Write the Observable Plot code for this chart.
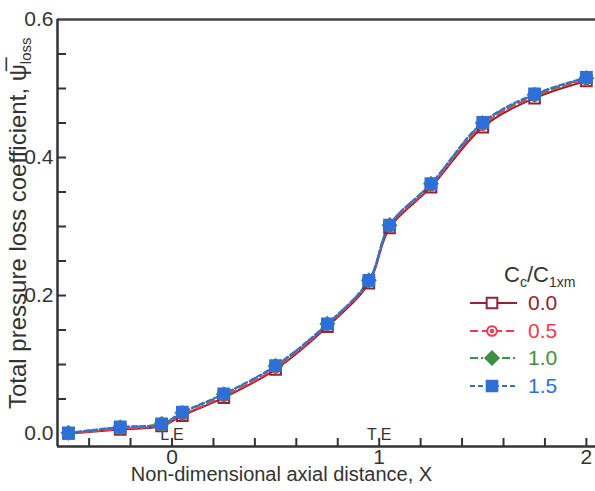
<!DOCTYPE html>
<html>
<head>
<meta charset="utf-8">
<script src="https://cdn.jsdelivr.net/npm/d3@7"></script>
<script src="https://cdn.jsdelivr.net/npm/@observablehq/plot@0.6"></script>
<style>
  html, body { margin: 0; padding: 0; background: #fff; }
  svg { display: block; }
</style>
</head>
<body>
<div id="chart"></div>
<script>
// ---- data ----
const X = [-0.5, -0.25, -0.05, 0.05, 0.25, 0.5, 0.75, 0.95, 1.05, 1.25, 1.5, 1.75, 2.0];
const s00 = [0.000, 0.006, 0.011, 0.026, 0.052, 0.093, 0.155, 0.218, 0.298, 0.357, 0.444, 0.486, 0.511];
const s05 = [0.000, 0.007, 0.012, 0.027, 0.054, 0.095, 0.157, 0.220, 0.300, 0.359, 0.447, 0.489, 0.513];
const s10 = [0.001, 0.009, 0.014, 0.030, 0.057, 0.098, 0.159, 0.222, 0.302, 0.362, 0.450, 0.491, 0.515];
const s15 = [0.001, 0.0095, 0.014, 0.031, 0.0575, 0.0985, 0.159, 0.222, 0.302, 0.362, 0.451, 0.492, 0.516];
const seriesNames = ["0.0", "0.5", "1.0", "1.5"];
const seriesValues = [s00, s05, s10, s15];
const xMajor = [0, 1, 2];
const xMinor = [-0.4, -0.2, 0, 0.2, 0.4, 0.6, 0.8, 1.0, 1.2, 1.4, 1.6, 1.8, 2.0];
const yMajor = [0, 0.2, 0.4, 0.6];
const yMinor = [0.05, 0.1, 0.15, 0.2, 0.25, 0.3, 0.35, 0.4, 0.45, 0.5, 0.55];
const edgeLabels = [{x: 0, t: "L E"}, {x: 1, t: "T E"}];

// ---- styles ----
const colors = ["#8e2434", "#f03a4e", "#3d8f45", "#2f6fd8"];
const dashes = [null, "8,4", "8,3,2,3", "5,3"];
const font = "'Liberation Sans', Arial, Helvetica, sans-serif";
const ink = "#333";

const symSquare = {draw(c, s) { const r = Math.sqrt(s) / 2; c.moveTo(-r, -r); c.lineTo(r, -r); c.lineTo(r, r); c.lineTo(-r, r); c.closePath(); }};
const symCircleDot = {draw(c, s) { const r = Math.sqrt(s) / 2.2; c.moveTo(r, 0); c.arc(0, 0, r, 0, 2 * Math.PI); c.moveTo(1.3, 0); c.arc(0, 0, 1.3, 0, 2 * Math.PI); }};
const symDiamondPlus = {draw(c, s) { const r = Math.sqrt(s) / 2 * 1.25; c.moveTo(0, -r); c.lineTo(r, 0); c.lineTo(0, r); c.lineTo(-r, 0); c.closePath(); c.moveTo(0, -r); c.lineTo(0, r); c.moveTo(-r, 0); c.lineTo(r, 0); }};
const symSquareX = {draw(c, s) { const r = Math.sqrt(s) / 2; c.moveTo(-r, -r); c.lineTo(r, -r); c.lineTo(r, r); c.lineTo(-r, r); c.closePath(); c.moveTo(-r, -r); c.lineTo(r, r); c.moveTo(r, -r); c.lineTo(-r, r); }};
const symbols = [symSquare, symCircleDot, symDiamondPlus, symSquareX];
const fills = ["none", "none", "#3d8f45", "#2f6fd8"];

const data = seriesNames.map((name, i) => X.map((x, j) => ({x, y: seriesValues[i][j], s: name})));

const xDomain = [-0.5526, 2.044];
const yDomain = [-0.0188, 0.6];

const marks = [];
// axes frame
marks.push(Plot.ruleY([yDomain[0]], {stroke: ink, strokeWidth: 2.5}));
marks.push(Plot.ruleY([0.6], {stroke: "#444", strokeWidth: 2.5}));
marks.push(Plot.ruleX([xDomain[0]], {stroke: ink, strokeWidth: 2.5}));
// inward ticks
marks.push(Plot.ruleX(xMinor, {stroke: ink, strokeWidth: 2, insetTop: 427 - 8}));
marks.push(Plot.ruleY(yMinor, {stroke: ink, strokeWidth: 2, insetRight: 538 - 9}));
// tick labels
marks.push(Plot.axisX(xMajor, {tickSize: 0, tickPadding: 3, fontSize: 21, fontFamily: font, fill: ink, tickFormat: d => String(d), label: null}));
marks.push(Plot.axisY(yMajor, {tickSize: 0, tickPadding: 4, fontSize: 21, fontFamily: font, fill: ink, tickFormat: d3.format(".1f"), label: null}));
// LE / TE
marks.push(Plot.text(edgeLabels, {x: "x", y: 0, text: "t", fontSize: 16, fontFamily: font, fill: ink, dy: 1}));
// lines
data.forEach((d, i) => {
  marks.push(Plot.line(d, {x: "x", y: "y", stroke: colors[i], strokeWidth: 2, strokeDasharray: dashes[i], curve: "catmull-rom"}));
});
// markers
data.forEach((d, i) => {
  marks.push(Plot.dot(d, {x: "x", y: "y", r: 6, symbol: symbols[i], stroke: colors[i], fill: fills[i], strokeWidth: i === 3 ? 2.2 : 2}));
});
// x label
marks.push(Plot.text(["Non-dimensional axial distance, X"], {frameAnchor: "bottom", text: d => d, dx: -45, dy: 34, fontSize: 20, fontFamily: font, fill: ink}));

const svg = Plot.plot({
  width: 595, height: 491,
  marginLeft: 57, marginRight: 0, marginTop: 19, marginBottom: 45,
  x: {domain: xDomain},
  y: {domain: yDomain},
  style: {background: "#fff", fontFamily: font},
  marks
});
document.getElementById("chart").appendChild(svg);

// ---- y-axis title & legend (styling overlay) ----
const root = d3.select(svg);
const yl = root.append("text")
  .attr("transform", "translate(26,409) rotate(-90)")
  .attr("text-anchor", "start")
  .attr("font-family", font).attr("font-size", 24).attr("fill", ink);
yl.append("tspan").text("Total pressure loss coefficient, ");
yl.append("tspan").text("\u03C8\u0305");
yl.append("tspan").attr("font-size", 15).attr("dy", 5).text("loss");

const lg = root.append("g").attr("text-anchor", "start");
const title = lg.append("text").attr("x", 504).attr("y", 282)
  .attr("font-family", font).attr("font-size", 22).attr("fill", ink);
title.append("tspan").text("C");
title.append("tspan").attr("font-size", 14).attr("dy", 5).text("c");
title.append("tspan").attr("dy", -5).text("/C");
title.append("tspan").attr("font-size", 14).attr("dy", 5).text("1xm");

const legendY = [303, 331, 358, 386];
seriesNames.forEach((name, i) => {
  const y = legendY[i];
  lg.append("line").attr("x1", 470).attr("x2", 517).attr("y1", y).attr("y2", y)
    .attr("stroke", colors[i]).attr("stroke-width", 2).attr("stroke-dasharray", dashes[i]);
  const p = d3.path();
  symbols[i].draw(p, Math.PI * 36);
  lg.append("path").attr("d", p.toString()).attr("transform", `translate(492,${y})`)
    .attr("fill", fills[i] === "none" ? "#fff" : fills[i]).attr("stroke", colors[i]).attr("stroke-width", 2);
  lg.append("text").attr("x", 528).attr("y", y).attr("dy", "0.35em")
    .attr("font-family", font).attr("font-size", 21).attr("fill", colors[i]).text(name);
});
</script>
</body>
</html>
